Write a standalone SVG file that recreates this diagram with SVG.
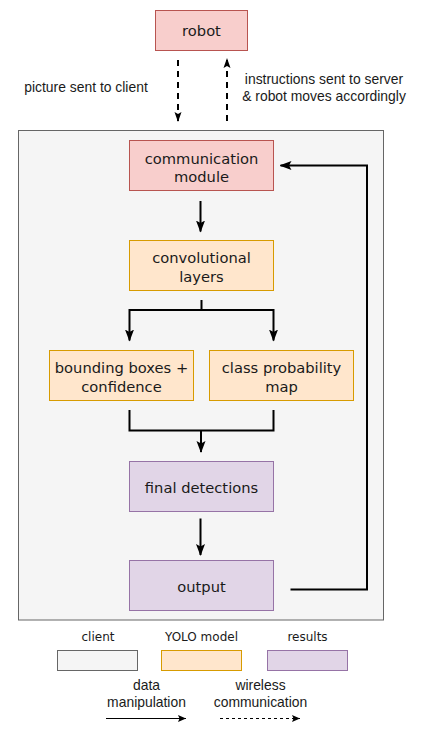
<svg xmlns="http://www.w3.org/2000/svg" width="427" height="737" viewBox="0 0 427 737">
<style>
.red{fill:#f8cecc;stroke:#b85450;stroke-width:1}
.org{fill:#ffe6cc;stroke:#d79b00;stroke-width:1}
.pur{fill:#e1d5e7;stroke:#9673a6;stroke-width:1}
.gry{fill:#f5f5f5;stroke:#666666;stroke-width:1}
.nt{font-family:"DejaVu Sans",Verdana,sans-serif;font-size:14.7px;fill:#1a1a1a;text-anchor:middle}
.lt{font-family:"DejaVu Sans",Verdana,sans-serif;font-size:12px;fill:#1a1a1a;text-anchor:middle}
.at{font-family:"Liberation Sans",Arial,sans-serif;font-size:13.9px;fill:#1a1a1a;text-anchor:middle}
.con{fill:none;stroke:#000;stroke-width:2}
.dash{fill:none;stroke:#000;stroke-width:2;stroke-dasharray:6 5}
</style>
<defs>
<marker id="ah" markerUnits="userSpaceOnUse" viewBox="0 0 12 10" refX="11" refY="5" markerWidth="12" markerHeight="10" orient="auto">
<path d="M0,0.5 L12,5 L0,9.5 L2.5,5 z" fill="#000"/>
</marker>
<marker id="ahs" markerUnits="userSpaceOnUse" viewBox="0 0 10 8" refX="9" refY="4" markerWidth="10" markerHeight="8" orient="auto">
<path d="M0,0.5 L10,4 L0,7.5 L2,4 z" fill="#000"/>
</marker>
<marker id="ahl" markerUnits="userSpaceOnUse" viewBox="0 0 8 8" refX="8" refY="4" markerWidth="8" markerHeight="8" orient="auto">
<path d="M0,0.5 L8,4 L0,7.5 L1.5,4 z" fill="#000"/>
</marker>
</defs>

<g id="client">
<rect class="gry" x="18.5" y="130.5" width="365" height="489.5"/>
</g>

<g id="robot">
<rect class="red" x="155.5" y="10.5" width="92" height="40"/>
<text class="nt" x="201.5" y="35.8">robot</text>
</g>

<g id="connectors">
<path class="dash" d="M178,60 V121" marker-end="url(#ahs)"/>
<path class="dash" d="M227,121 V59" marker-end="url(#ahs)"/>
<path class="con" d="M200.5,201 V231.5" marker-end="url(#ah)"/>
<path class="con" d="M201.5,300 V310 M129.5,310 H273.5" />
<path class="con" d="M129.5,309 V340.5" marker-end="url(#ah)"/>
<path class="con" d="M273.5,309 V340.5" marker-end="url(#ah)"/>
<path class="con" d="M129.5,410 V430.5 H273.5 V410"/>
<path class="con" d="M201,430 V452" marker-end="url(#ah)"/>
<path class="con" d="M200.5,518.5 V555" marker-end="url(#ah)"/>
<path class="con" d="M290.5,589.5 H367 V165.5 H280.5" marker-end="url(#ah)"/>
</g>

<g id="picture-label"><text class="at" x="86" y="91.5">picture sent to client</text></g>
<g id="instructions-label">
<text class="at" x="324" y="83.5">instructions sent to server</text>
<text class="at" x="324" y="100.5">&amp; robot moves accordingly</text>
</g>

<g id="communication-module">
<rect class="red" x="129.5" y="140.5" width="144" height="50"/>
<text class="nt" x="201.5" y="163.5">communication</text>
<text class="nt" x="201.5" y="182">module</text>
</g>

<g id="convolutional-layers">
<rect class="org" x="129.5" y="240.5" width="144" height="50"/>
<text class="nt" x="201.5" y="263">convolutional</text>
<text class="nt" x="201.5" y="281.5">layers</text>
</g>

<g id="bounding-boxes">
<rect class="org" x="49.5" y="350.5" width="144" height="50"/>
<text class="nt" x="121.5" y="373">bounding boxes +</text>
<text class="nt" x="121.5" y="391.5">confidence</text>
</g>

<g id="class-probability-map">
<rect class="org" x="209.5" y="350.5" width="144" height="50"/>
<text class="nt" x="281.5" y="373">class probability</text>
<text class="nt" x="281.5" y="391.5">map</text>
</g>

<g id="final-detections">
<rect class="pur" x="129.5" y="461.5" width="144" height="50"/>
<text class="nt" x="201.5" y="492.5">final detections</text>
</g>

<g id="output">
<rect class="pur" x="129.5" y="560.5" width="144" height="50"/>
<text class="nt" x="201.5" y="592">output</text>
</g>

<g id="legend">
<text class="lt" x="98" y="641">client</text>
<text class="lt" x="201.5" y="641">YOLO model</text>
<text class="lt" x="307.5" y="641">results</text>
<rect class="gry" x="57.5" y="650.5" width="80" height="20"/>
<rect class="org" x="161.5" y="650.5" width="80" height="20"/>
<rect class="pur" x="267.5" y="650.5" width="80" height="20"/>
<text class="at" x="146.5" y="689.5">data</text>
<text class="at" x="146.5" y="706.5">manipulation</text>
<text class="at" x="260.5" y="689.5">wireless</text>
<text class="at" x="260.5" y="706.5">communication</text>
<path d="M106,718.5 H186" stroke="#000" stroke-width="1" fill="none" marker-end="url(#ahl)"/>
<path d="M220,718.5 H300" stroke="#000" stroke-width="1" stroke-dasharray="3 3" fill="none" marker-end="url(#ahl)"/>
</g>
</svg>
